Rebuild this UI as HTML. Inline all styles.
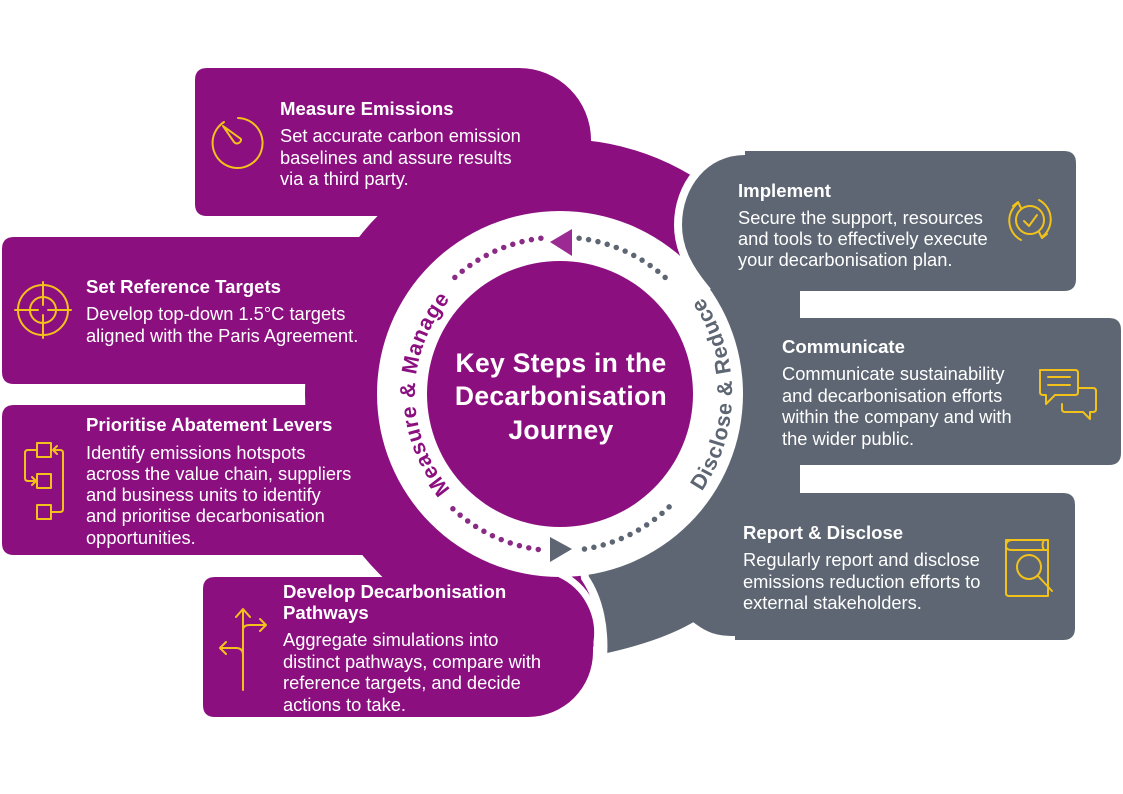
<!DOCTYPE html>
<html><head><meta charset="utf-8"><style>
html,body{margin:0;padding:0;background:#fff;}
svg{display:block;}
text{font-family:"Liberation Sans",Arial,sans-serif;}
.t{font-weight:bold;font-size:18.6px;fill:#fff;}
.b{font-size:18.3px;fill:#fff;}
</style></head><body>
<svg width="1123" height="794" viewBox="0 0 1123 794" xmlns="http://www.w3.org/2000/svg">
<defs>
<path id="lp" d="M466.8 505.1 A145 145 0 0 1 466.8 282.9"/>
<path id="rp" d="M670.6 525.8 A172 172 0 0 0 670.6 262.2"/>
</defs>
<circle cx="560" cy="394" r="255" fill="#8c0f80"/>
<path d="M207 68 L519 68 A72 72 0 0 1 591 140 L591 216 L207 216 Q195 216 195 204 L195 80 Q195 68 207 68 Z" fill="#8c0f80"/>
<path d="M14 237 L380 237 L380 384 L14 384 Q2 384 2 372 L2 249 Q2 237 14 237 Z" fill="#8c0f80"/>
<path d="M14 405 L380 405 L380 555 L14 555 Q2 555 2 543 L2 417 Q2 405 14 405 Z" fill="#8c0f80"/>
<path d="M745 151 C705 151 678 185 678 225 C678 250 690 270 705 288 L560 394 L585 578 C600 600 605 630 603 658 C640 650 670 640 693 627 C705 636 715 640 735 640 L804 640 L804 151 Z" fill="#5d6672" stroke="#fff" stroke-width="8"/>
<path d="M745 151 L1064 151 Q1076 151 1076 163 L1076 279 Q1076 291 1064 291 L745 291 Z" fill="#5d6672"/>
<path d="M760 318 L1109 318 Q1121 318 1121 330 L1121 453 Q1121 465 1109 465 L760 465 Z" fill="#5d6672"/>
<path d="M735 493 L1063 493 Q1075 493 1075 505 L1075 628 Q1075 640 1063 640 L735 640 Z" fill="#5d6672"/>
<path d="M215 577 L528 577 A65 65 0 0 1 593 642 L593 652 A65 65 0 0 1 528 717 L215 717 Q203 717 203 705 L203 589 Q203 577 215 577 Z" fill="#8c0f80"/>
<path d="M560 574 A65 65 0 0 1 597 642 L597 652 A69 69 0 0 1 540 721" fill="none" stroke="#fff" stroke-width="7"/>
<circle cx="560" cy="394" r="183" fill="#fff"/>
<circle cx="560" cy="394" r="133" fill="#8c0f80"/>
<g fill="none" stroke-width="5.5" stroke-linecap="round" stroke-dasharray="0 9.6">
<path d="M540.9 238.2 A157 157 0 0 0 452.9 279.2" stroke="#8a2a84"/>
<path d="M452.9 508.8 A157 157 0 0 0 540.9 549.8" stroke="#8a2a84"/>
<path d="M579.1 238.2 A157 157 0 0 1 669.1 281.1" stroke="#5d6672"/>
<path d="M669.1 506.9 A157 157 0 0 1 579.1 549.8" stroke="#5d6672"/>
</g>
<polygon points="550,242 572,229 572,256" fill="#9b2a92"/>
<polygon points="572,549 550,537 550,562" fill="#5d6672"/>
<text font-size="21.5" font-weight="bold" fill="#8c0f80" letter-spacing="0.8"><textPath href="#lp" startOffset="50%" text-anchor="middle">Measure &amp; Manage</textPath></text>
<text font-size="21.5" font-weight="bold" fill="#5d6672" letter-spacing="0.8"><textPath href="#rp" startOffset="50%" text-anchor="middle">Disclose &amp; Reduce</textPath></text>
<g font-size="26.5" font-weight="bold" fill="#fff" text-anchor="middle" letter-spacing="0.3">
<text x="561" y="372">Key Steps in the</text>
<text x="561" y="405">Decarbonisation</text>
<text x="561" y="439">Journey</text>
</g>
<text class="t" x="280" y="115">Measure Emissions</text>
<text class="b" x="280" y="142">Set accurate carbon emission</text>
<text class="b" x="280" y="164">baselines and assure results</text>
<text class="b" x="280" y="185">via a third party.</text>

<text class="t" x="86" y="293">Set Reference Targets</text>
<text class="b" x="86" y="320">Develop top-down 1.5°C targets</text>
<text class="b" x="86" y="342">aligned with the Paris Agreement.</text>

<text class="t" x="86" y="431">Prioritise Abatement Levers</text>
<text class="b" x="86" y="459">Identify emissions hotspots</text>
<text class="b" x="86" y="480">across the value chain, suppliers</text>
<text class="b" x="86" y="501">and business units to identify</text>
<text class="b" x="86" y="522">and prioritise decarbonisation</text>
<text class="b" x="86" y="544">opportunities.</text>

<text class="t" x="283" y="598">Develop Decarbonisation</text>
<text class="t" x="283" y="619">Pathways</text>
<text class="b" x="283" y="646">Aggregate simulations into</text>
<text class="b" x="283" y="668">distinct pathways, compare with</text>
<text class="b" x="283" y="689">reference targets, and decide</text>
<text class="b" x="283" y="711">actions to take.</text>

<text class="t" x="738" y="197">Implement</text>
<text class="b" x="738" y="224">Secure the support, resources</text>
<text class="b" x="738" y="245">and tools to effectively execute</text>
<text class="b" x="738" y="266">your decarbonisation plan.</text>

<text class="t" x="782" y="353">Communicate</text>
<text class="b" x="782" y="380">Communicate sustainability</text>
<text class="b" x="782" y="402">and decarbonisation efforts</text>
<text class="b" x="782" y="423">within the company and with</text>
<text class="b" x="782" y="445">the wider public.</text>

<text class="t" x="743" y="539">Report &amp; Disclose</text>
<text class="b" x="743" y="566">Regularly report and disclose</text>
<text class="b" x="743" y="588">emissions reduction efforts to</text>
<text class="b" x="743" y="609">external stakeholders.</text>

<g fill="none" stroke="#f2c21b" stroke-width="2" stroke-linecap="round" stroke-linejoin="round">
<path d="M238 118 A25 25 0 1 1 224 122"/>
<path d="M223 126 L234 142 A4 4 0 0 0 241 139 Z"/>
<circle cx="43" cy="310" r="25"/><circle cx="43" cy="310" r="13"/>
<path d="M43 282 V305 M43 315 V338 M15 310 H38 M48 310 H71"/>
<rect x="37" y="443" width="14" height="14"/><rect x="37" y="474" width="14" height="14"/><rect x="37" y="505" width="14" height="14"/>
<path d="M37 450 H28 Q25 450 25 453 V478 Q25 481 28 481 H35 M32 477 L36 481 L32 485"/>
<path d="M51 512 H60 Q63 512 63 509 V453 Q63 450 60 450 H54 M57 446 L53 450 L57 454"/>
<path d="M243 610 V690 M236 617 L243 609 L250 617 M243 630 Q243 625 250 625 H266 M260 619 L266 625 L260 631 M243 655 Q243 648 236 648 H220 M226 642 L220 648 L226 654"/>
<circle cx="1030" cy="220" r="14"/><path d="M1024 221 L1029 226 L1037 215"/>
<path d="M1018 203 A22 22 0 0 0 1021 240 M1013 206 L1018 202 L1021 208 M1042 237 A22 22 0 0 0 1039 200 M1047 234 L1042 238 L1039 232"/>
<path d="M1040 370 H1075 Q1078 370 1078 373 V392 Q1078 395 1075 395 H1055 L1046 404 V395 H1043 Q1040 395 1040 392 Z"/>
<path d="M1048 377 H1070 M1048 385 H1070"/>
<path d="M1078 388 H1093 Q1096 388 1096 391 V409 Q1096 412 1093 412 H1090 V419 L1083 412 H1065 Q1062 412 1062 409 V404"/>
<path d="M1006 540 H1048 V596 H1009 Q1006 596 1006 593 Z M1006 546 Q1006 540 1012 540"/>
<path d="M1006 546 Q1006 550 1012 550 H1048 M1044 540 Q1041 545 1044 550"/>
<circle cx="1029" cy="567" r="12"/><path d="M1038 576 L1052 591"/>
</g>
</svg>
</body></html>
